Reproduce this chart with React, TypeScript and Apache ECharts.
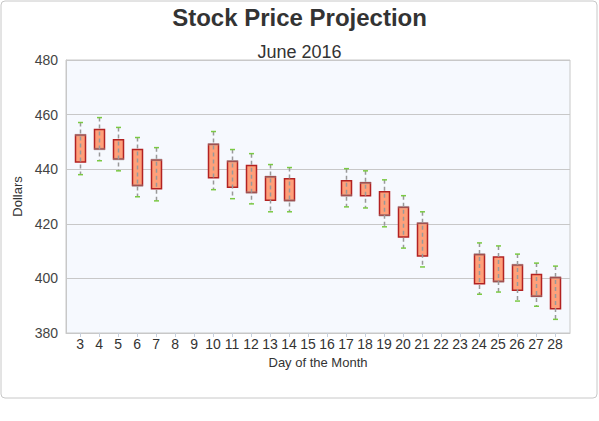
import React, { useEffect, useRef } from "react";
import * as echarts from "echarts";

const days = [3, 4, 5, 6, 7, 10, 11, 12, 13, 14, 17, 18, 19, 20, 21, 24, 25, 26, 27, 28];
const highs = [457.1, 458.9, 455.3, 451.6, 447.9, 453.8, 447.2, 445.7, 441.7, 440.6, 440.2, 439.4, 436.1, 430.3, 424.4, 413.0, 411.9, 408.9, 405.6, 404.5];
const boxTops = [452.5, 454.5, 450.8, 447.2, 443.4, 449.1, 442.9, 441.4, 437.2, 436.5, 435.8, 435.0, 431.7, 426.1, 420.2, 408.8, 407.8, 404.9, 401.4, 400.3];
const boxBottoms = [442.6, 447.4, 443.7, 434.0, 432.8, 436.9, 433.4, 431.5, 428.6, 428.5, 430.4, 430.3, 423.1, 415.2, 408.2, 398.0, 398.9, 395.7, 393.5, 388.9];
const lows = [438.0, 443.1, 439.4, 429.9, 428.4, 432.5, 429.2, 427.3, 424.4, 424.4, 426.2, 425.8, 418.9, 411.1, 404.2, 394.2, 395.0, 391.7, 389.8, 385.0];
const marks = [452.5, 447.4, 443.7, 434.0, 443.4, 449.1, 442.9, 431.5, 437.2, 428.5, 430.4, 435.0, 423.1, 426.1, 420.2, 408.8, 398.9, 404.9, 393.5, 400.3];
const tickDays = [3, 4, 5, 6, 7, 8, 9, 10, 11, 12, 13, 14, 15, 16, 17, 18, 19, 20, 21, 22, 23, 24, 25, 26, 27, 28];

const FONT = "Arial, 'Liberation Sans', sans-serif";

export default function App() {
  const ref = useRef<HTMLDivElement>(null);
  useEffect(() => {
    const chart = echarts.init(ref.current!, null, { renderer: "svg" });
    const data = days.map((d, i) => [d, lows[i], boxBottoms[i], boxTops[i], highs[i], marks[i]]);
    chart.setOption({
      animation: false,
      backgroundColor: "#ffffff",
      textStyle: { fontFamily: FONT },
      title: [
        {
          text: "Stock Price Projection",
          left: "center",
          top: 0,
          textStyle: { fontSize: 24, fontWeight: "bold", color: "#333333", fontFamily: FONT },
        },
        {
          text: "June 2016",
          left: "center",
          top: 38,
          textStyle: { fontSize: 18, fontWeight: "normal", color: "#333333", fontFamily: FONT },
        },
      ],
      graphic: [
        {
          type: "rect",
          shape: { x: 1, y: 1, width: 596, height: 397, r: 4 },
          style: { fill: "none", stroke: "#c8c8c8", lineWidth: 1 },
          z: -1,
        },
      ],
      grid: {
        left: 66,
        top: 60,
        right: 29,
        bottom: 88,
        show: true,
        backgroundColor: "#f6f9fe",
        borderColor: "#c8c8c8",
        borderWidth: 1,
      },
      xAxis: {
        type: "value",
        min: 2.26,
        max: 28.79,
        name: "Day of the Month",
        nameLocation: "middle",
        nameGap: 22,
        nameTextStyle: { fontSize: 13, color: "#333333", fontFamily: FONT },
        splitLine: { show: false },
        axisLine: { show: true, lineStyle: { color: "#c8c8c8" } },
        axisTick: { show: true, length: 4, customValues: tickDays, lineStyle: { color: "#c6cfdc" } },
        axisLabel: { customValues: tickDays, fontSize: 14, color: "#333333", margin: 4, fontFamily: FONT },
      },
      yAxis: {
        type: "value",
        min: 380,
        max: 480,
        interval: 20,
        name: "Dollars",
        nameLocation: "middle",
        nameGap: 34,
        nameTextStyle: { fontSize: 13, color: "#333333", fontFamily: FONT },
        axisLine: { show: true, lineStyle: { color: "#c8c8c8" } },
        axisTick: { show: false },
        splitLine: { lineStyle: { color: "#c8c8c8" } },
        axisLabel: { fontSize: 14, color: "#444444", margin: 8, fontFamily: FONT },
      },
      series: [
        {
          type: "custom",
          data,
          encode: { x: 0, y: [1, 2, 3, 4, 5] },
          renderItem: (params: any, api: any) => {
            const x = api.value(0);
            const lo = api.coord([x, api.value(1)]);
            const bb = api.coord([x, api.value(2)]);
            const bt = api.coord([x, api.value(3)]);
            const hi = api.coord([x, api.value(4)]);
            const mk = api.coord([x, api.value(5)]);
            const cx = Math.round(lo[0]) + 0.5;
            const bw = 10;
            const cw = 5;
            return {
              type: "group",
              children: [
                {
                  type: "rect",
                  shape: { x: cx - bw / 2, y: bt[1], width: bw, height: bb[1] - bt[1] },
                  style: { fill: "#ffa07a", stroke: "#b22222", lineWidth: 1.5 },
                },
                {
                  type: "line",
                  shape: { x1: cx - bw / 2 - 0.5, y1: mk[1], x2: cx + bw / 2 + 0.5, y2: mk[1] },
                  style: { stroke: "rgba(140,140,140,0.45)", lineWidth: 2.5 },
                },
                {
                  type: "line",
                  shape: { x1: cx, y1: hi[1], x2: cx, y2: lo[1] },
                  style: { stroke: "#999999", lineWidth: 1.5, lineDash: [4, 3] },
                },
                {
                  type: "line",
                  shape: { x1: cx - cw / 2, y1: hi[1], x2: cx + cw / 2, y2: hi[1] },
                  style: { stroke: "#7ac943", lineWidth: 1.5 },
                },
                {
                  type: "line",
                  shape: { x1: cx - cw / 2, y1: lo[1], x2: cx + cw / 2, y2: lo[1] },
                  style: { stroke: "#7ac943", lineWidth: 1.5 },
                },
              ],
            };
          },
        },
      ],
    });
    return () => chart.dispose();
  }, []);
  return (
    <div
      ref={ref}
      style={{ position: "absolute", left: 0, top: 0, width: 599, height: 421 }}
    />
  );
}
